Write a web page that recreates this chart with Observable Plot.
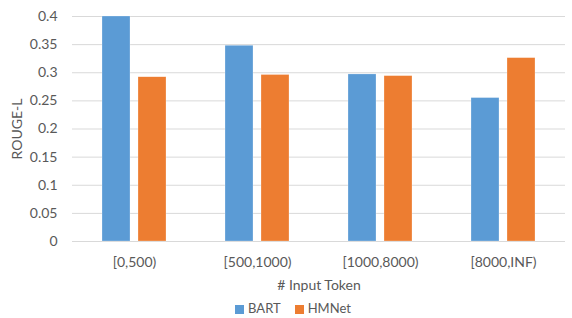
<!DOCTYPE html>
<html>
<head>
<meta charset="utf-8">
<script src="https://cdn.jsdelivr.net/npm/d3@7"></script>
<script src="https://cdn.jsdelivr.net/npm/@observablehq/plot@0.6"></script>
<style>
  body { margin: 0; background: #fff; font-family: Lato, "Open Sans", sans-serif; }
  #chart svg { display: block; }
  #legend { display: flex; justify-content: center; align-items: center; gap: 14px; font-size: 13px; color: #595959; margin-left: 14px; height: 22px; padding-top: 4px; }
  #legend span.sw { display: inline-block; width: 9px; height: 9px; margin-right: 4px; vertical-align: -1px; }
</style>
</head>
<body>
<div id="chart"></div>
<script>
const categories = ["[0,500)", "[500,1000)", "[1000,8000)", "[8000,INF)"];
const series = ["BART", "HMNet"];
const bartValues = [0.400, 0.348, 0.297, 0.255];
const hmnetValues = [0.292, 0.296, 0.294, 0.326];
const yTicks = [0, 0.05, 0.1, 0.15, 0.2, 0.25, 0.3, 0.35, 0.4];
const colors = ["#5b9bd5", "#ed7d31"];

const bartData = categories.map((c, i) => ({cat: c, value: bartValues[i]}));
const hmnetData = categories.map((c, i) => ({cat: c, value: hmnetValues[i]}));

const plot = Plot.plot({
  width: 572,
  height: 293,
  marginLeft: 72,
  marginRight: 7,
  marginTop: 16,
  marginBottom: 52,
  style: {fontFamily: "Lato, 'Open Sans', sans-serif", fontSize: "14px", color: "#595959", background: "#fff"},
  x: {domain: categories, paddingInner: 0.48, paddingOuter: 0.24},
  y: {domain: [0, 0.4]},
  marks: [
    Plot.ruleY(yTicks, {stroke: "#d9d9d9", strokeWidth: 1}),
    Plot.axisY({ticks: yTicks, tickSize: 0, tickPadding: 15, tickFormat: d => String(d), fontSize: 14, label: "ROUGE-L", labelAnchor: "center", labelArrow: "none", labelOffset: 60, fill: "#595959"}),
    Plot.axisX({anchor: "bottom", tickSize: 0, tickPadding: 16, fontSize: 14, label: "# Input Token", labelAnchor: "center", labelArrow: "none", labelOffset: 48, fill: "#595959"}),
    Plot.barY(bartData, {x: "cat", y: "value", fill: colors[0], insetRight: 36, stroke: "#ffffff", strokeOpacity: 0.5, strokeWidth: 0.5}),
    Plot.barY(hmnetData, {x: "cat", y: "value", fill: colors[1], insetLeft: 36, stroke: "#ffffff", strokeOpacity: 0.5, strokeWidth: 0.5})
  ]
});
document.getElementById("chart").appendChild(plot);

const legend = document.createElement("div");
legend.id = "legend";
legend.innerHTML = series.map((s, i) => `<div><span class="sw" style="background:${colors[i]}"></span>${s}</div>`).join("");
document.body.appendChild(legend);
</script>
</body>
</html>
